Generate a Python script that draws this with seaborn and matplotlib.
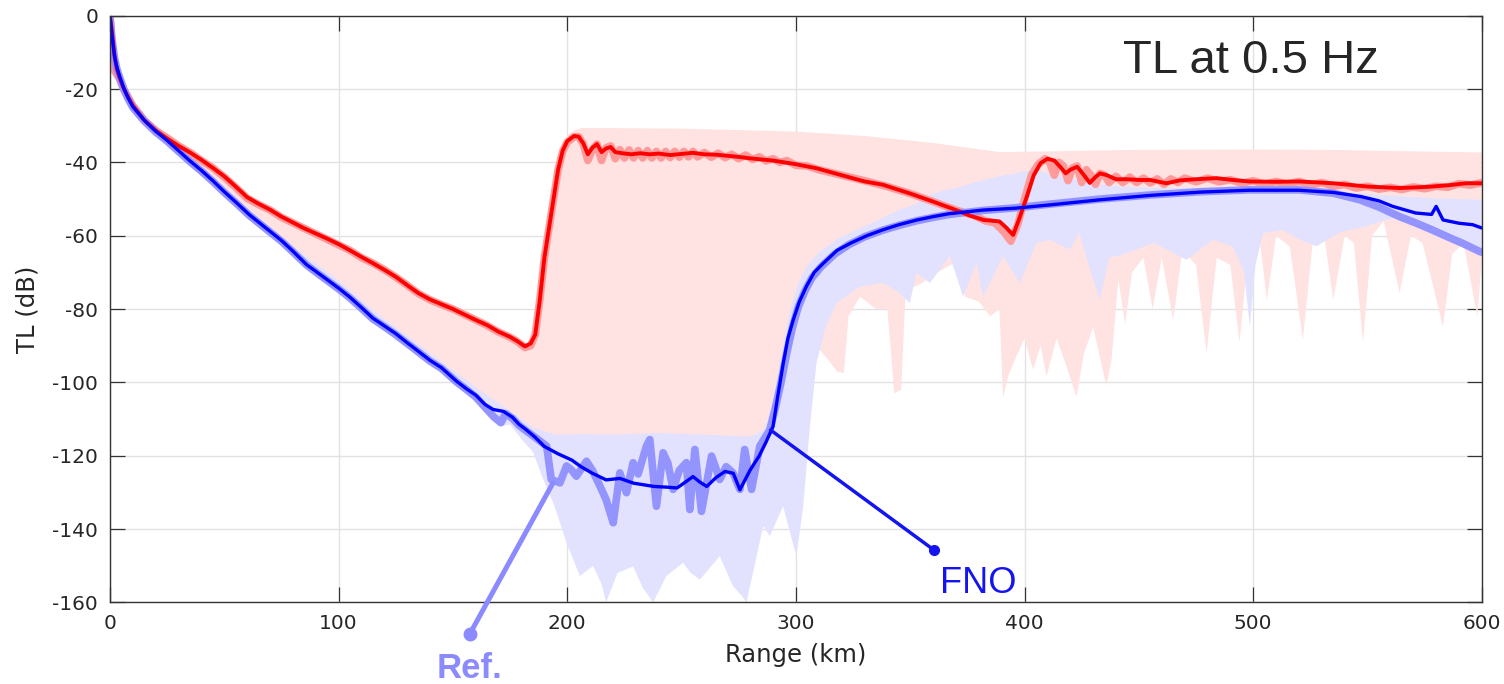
import numpy as np
import matplotlib
matplotlib.use("Agg")
import matplotlib.pyplot as plt
import seaborn as sns

# ---------------- data ----------------
red_fno_km = [0, 1, 2, 3, 4, 6, 8, 10, 15, 20, 25, 30, 35, 40, 45, 50, 55, 60, 65, 70, 75, 80, 85, 90, 95,
              100, 105, 110, 115, 120, 125, 130, 135, 140, 145, 150, 155, 160, 165, 170, 175, 178, 181.5,
              184, 186, 188, 190, 192, 194, 196, 198, 200, 203, 205, 207, 209, 211, 213, 215, 217, 219, 221,
              224, 228, 232, 236, 240, 245, 250, 255, 260, 265, 270, 275, 280, 290, 300, 309, 320, 330, 338,
              350, 360, 370, 376, 382, 389, 392, 395, 398, 401, 404, 407, 410, 413, 416, 418, 420, 423, 426,
              428.5, 431, 433, 436, 440, 445, 450, 455, 462, 468, 475, 484, 491, 498, 510, 520, 535, 550, 564,
              572, 578, 586, 593, 600]
red_fno_tl = [0, -5, -11, -14.5, -16.5, -19.8, -22.3, -24.5, -28.5, -31.3, -33.5, -35.5, -37.3, -39.3, -41.5,
              -43.8, -46.6, -49.5, -51.3, -52.9, -54.8, -56.4, -58, -59.4, -60.8, -62.3, -64, -65.8, -67.5,
              -69.3, -71.2, -73.5, -75.7, -77.4, -78.7, -80, -81.5, -83, -84.4, -86.2, -87.6, -88.7, -90.2,
              -89.4, -87, -77.5, -66, -58, -50, -42, -36.8, -34.2, -32.8, -33, -34.8, -37.8, -36, -35, -37.2,
              -36.2, -35.8, -37.2, -37.5, -37.8, -37.5, -37.8, -37.6, -38, -37.7, -37.4, -37.8, -37.9, -38.2,
              -38.5, -38.9, -39.5, -40.5, -41.6, -43.5, -45.2, -46.1, -48.5, -50.7, -53, -54.5, -55.7, -56.1,
              -57.8, -59.8, -54.8, -49.3, -43.5, -40.2, -39, -39.5, -41.5, -43, -42, -41.2, -43.5, -45.6, -44,
              -43, -43.5, -44.6, -44.6, -44.8, -44.8, -45.7, -44.9, -44.6, -44.3, -44.8, -45.2, -45.3, -45.2,
              -45.7, -46.6, -47, -46.8, -46.6, -46.2, -45.7, -45.7]

red_ref_km = [0, 1, 2, 4, 6, 10, 15, 20, 25, 30, 35, 40, 45, 50, 55, 60, 65, 70, 75, 80, 85, 90, 95, 100, 105,
              110, 115, 120, 125, 130, 135, 140, 145, 150, 155, 160, 165, 170, 175, 178, 181.5, 184, 186, 188,
              190, 192, 194, 196, 198, 200, 203, 205, 207, 209, 211, 213, 215, 217, 219, 221, 223, 225, 227,
              229, 231, 233, 235, 237, 239, 241, 243, 245, 247, 249, 251, 253, 255, 257, 260, 263, 266, 269,
              272, 275, 278, 281, 284, 287, 290, 293, 296, 300, 305, 310, 320, 330, 340, 350, 360, 370, 378,
              383, 387, 391, 394, 397, 400, 403, 406, 409, 411, 413, 415, 417, 419, 421, 423, 425, 427, 429,
              431, 433, 435, 437, 440, 443, 446, 449, 452, 455, 458, 461, 464, 467, 470, 475, 480, 485, 490,
              495, 500, 505, 510, 515, 520, 525, 530, 535, 540, 545, 550, 555, 560, 565, 570, 575, 580, 585,
              590, 595, 600]
red_ref_tl = [0, -12, -15, -17, -20, -24.5, -28.5, -31.3, -33.3, -35.5, -37.3, -39.5, -41.5, -44, -46.8, -49.8,
              -51.5, -53, -55, -56.5, -58, -59.5, -61, -62.5, -64, -66, -67.5, -69.3, -71.3, -73.5, -75.8,
              -77.5, -78.8, -80, -81.5, -83, -84.5, -86.3, -87.7, -88.8, -90.5, -90, -87, -77.5, -66, -58, -50,
              -42, -37, -34.5, -33, -33, -35, -39.5, -36.5, -35, -39.5, -36, -35.5, -39, -36.5, -38.8, -36.6,
              -38.8, -36.8, -38.8, -36.8, -38.8, -37, -38.8, -37, -38.7, -37, -38.6, -37, -38.5, -37, -38.5,
              -37.3, -38.6, -37.5, -38.7, -37.8, -39, -38, -39.2, -38.5, -39.6, -39, -40, -39.5, -40.8, -41,
              -42, -43.5, -45, -46.6, -48.5, -50.7, -53, -54.5, -56, -56.5, -59, -61.5, -57, -50, -43.5, -40.5,
              -39, -40, -43.5, -40, -41, -45, -41.5, -41, -45.5, -42, -43.5, -46, -43, -43.5, -45.5, -43.8,
              -45.5, -44, -45.5, -44.3, -45.6, -44.5, -46, -44.5, -45.5, -44.3, -45.3, -44.3, -45.3, -44.7,
              -45.7, -45, -46, -45.2, -46, -45.2, -46.2, -45.5, -46.5, -46, -47, -46.5, -47.3, -46.8, -47.4,
              -46.7, -47.2, -46.5, -46.8, -45.8, -46.2, -45.5]

blue_fno_km = [0, 1, 2, 3, 4.5, 6, 8, 10, 15, 20, 25, 30, 35, 40, 45, 50, 55, 61, 65, 70, 75, 80, 86, 90, 95,
               100, 105, 110, 115, 120, 125, 130, 134, 140, 145, 151.6, 156, 160, 164, 167.6, 172, 176, 179,
               182, 186, 190, 196, 202, 206, 211, 217, 223, 229, 238, 244, 248, 251, 255, 258, 261, 265, 269,
               272.6, 275.5, 280, 284, 287, 290, 292, 294.4, 296.5, 298.8, 301.5, 304.6, 308, 312, 318, 324,
               331, 338, 345, 353, 360, 367, 382, 396, 411, 433, 455, 477, 498, 520, 535, 547, 555, 561, 571,
               578, 580, 583, 590, 596, 600]
blue_fno_tl = [0, -6, -11, -14, -17, -19.7, -22.5, -24.8, -28.5, -31.5, -34, -36.8, -39.6, -42.2, -45, -48,
               -50.8, -54.3, -56.3, -58.8, -61.3, -64.2, -67.9, -69.7, -72, -74.3, -76.8, -79.6, -82.5, -84.6,
               -86.7, -89.2, -91.1, -94, -96, -99.7, -101.8, -103.5, -106, -107.4, -107.9, -109.5, -111.5,
               -112.9, -115, -117.5, -119.5, -121.2, -123, -124.8, -126.6, -126.2, -127.5, -128.4, -128.6,
               -128.8, -127.5, -125.7, -127.2, -128.4, -126, -124.3, -124.8, -129.3, -123.9, -120, -116.2,
               -112, -104, -95, -88, -83, -78, -73.8, -70, -67.5, -64, -62, -60, -58.4, -57, -55.7, -54.8, -54,
               -53, -52.5, -51.6, -50.2, -49, -48.1, -47.6, -47.6, -48.2, -49.3, -50.5, -52, -53.8, -54.2, -52,
               -55.7, -56.6, -57, -57.9]

blue_ref_km = [0, 1, 2, 3, 4.5, 6, 8, 10, 15, 20, 25, 30, 35, 40, 45, 50, 55, 61, 65, 70, 75, 80, 86, 90, 95,
               100, 105, 110, 115, 120, 125, 130, 134, 140, 145, 151.6, 156, 160, 164, 168, 171, 173, 176, 179,
               182, 187, 191, 193, 196.8, 199.7, 202, 204, 208.4, 211, 214.3, 217, 220.1, 223, 225.9, 228.8,
               231, 234.6, 236.1, 239, 241.9, 244, 246.3, 249, 252.1, 253.6, 255.8, 258.7, 263.1, 266.7, 269.5,
               272.5, 275.5, 277.6, 280.6, 284.2, 288.6, 291, 293.5, 296, 298.5, 301, 304, 307, 311, 317, 323,
               330, 338, 345, 353, 360, 367, 382, 396, 411, 433, 455, 477, 498, 520, 535, 546.6, 555, 564, 571,
               578.2, 585, 592, 599, 600]
blue_ref_tl = [0, -7, -11.5, -14.5, -17.3, -20, -22.7, -25, -28.7, -31.7, -34.2, -37, -39.8, -42.4, -45.2,
               -48.2, -51, -54.5, -56.5, -59, -61.5, -64.4, -68, -69.9, -72.2, -74.5, -77, -79.8, -82.7, -84.8,
               -87, -89.4, -91.3, -94.2, -96.2, -99.9, -102, -104, -106.8, -109.5, -111, -108.5, -109.8, -111.8,
               -113.2, -115.5, -117.4, -126.5, -127.4, -122.8, -124, -125.6, -121.5, -124, -128.3, -132,
               -138.3, -124.7, -130.1, -121.9, -125, -117.4, -115.6, -133.8, -119.2, -122, -129.2, -124, -121.9,
               -134.7, -118.3, -135.2, -120.1, -126.5, -123, -124.7, -129.2, -118.3, -129.2, -117.4, -112.9,
               -107, -100, -92, -85, -79.5, -75, -71.5, -68.5, -65, -62.5, -60.3, -58.5, -57.2, -55.9, -55,
               -54.2, -53.1, -52.4, -51.4, -50, -48.9, -48, -47.5, -47.5, -48.4, -50.2, -52.2, -54.8, -56.5,
               -58.4, -60.3, -62.2, -64.3, -64.5]

# envelope bands
red_hi_km = [0, 2, 5, 10, 15, 20, 25, 40, 55, 70, 85, 100, 115, 130, 145, 160, 175, 181.5, 185, 187, 190, 194,
             197, 200, 204, 207, 250, 300, 330, 360, 389, 410, 447, 500, 535, 570, 600]
red_hi_tl = [0, -11, -18, -24, -28, -31, -33, -39, -46.5, -52.5, -57.5, -62, -67.2, -73.2, -78.5, -82.8, -87.5,
             -90, -88, -80, -64, -48, -37, -32.5, -31, -30.6, -30.8, -31.6, -32.8, -34.7, -37.2, -37, -36.6,
             -36.5, -36.6, -37, -37.3]
red_lo_km = [0, 2, 5, 10, 25, 40, 55, 70, 85, 100, 115, 130, 145, 160, 175, 185, 195, 207, 220, 240, 260, 280,
             288, 292, 296, 300, 305, 309, 313, 318, 321, 323, 328, 335, 340, 343, 346, 348, 355, 362, 369, 374,
             380, 385, 389, 390.6, 393, 396.4, 400, 403.7, 407, 409.6, 414, 418, 422.7, 426, 430, 435.8, 438,
             441, 444, 447, 452, 456, 460, 465, 469, 475, 479.6, 484, 490, 494, 498, 503, 506, 510, 516, 521.7,
             526, 531, 535, 540, 544, 548, 552, 557, 564, 569, 574, 578, 583, 587, 592, 598, 600]
red_lo_tl = [0, -11.5, -18.5, -24.5, -34, -41.8, -50, -58, -65.5, -72.3, -80.5, -87.5, -94.5, -101.5, -108,
             -112.5, -114.5, -114.3, -114.5, -114, -114.5, -115, -116, -112, -103, -92, -88, -90.2, -93, -97,
             -97.5, -82, -76.6, -80, -80, -103, -102, -75, -73, -70, -67.5, -76.6, -78, -82, -80, -104, -98, -93,
             -88, -96.5, -90, -98.3, -88, -95, -104, -92, -85, -101, -94, -72, -84, -70, -66, -80, -66, -83, -64,
             -68, -92, -66, -68, -89, -64, -62, -77.5, -60, -63, -88.4, -62, -60, -77.5, -60, -62, -89, -60, -56,
             -75.6, -60, -62, -72, -84.8, -65, -62, -82, -66]

blue_hi_km = [0, 2, 5, 10, 25, 40, 55, 70, 85, 100, 115, 130, 145, 160, 175, 185, 195, 207, 220, 240, 260, 280,
              286, 289, 292, 295, 298, 301, 305, 310, 318, 326, 335, 345, 352, 358, 364, 370, 378, 389, 396, 404,
              415, 433, 450, 470, 500, 520, 535, 550, 565, 580, 600]
blue_hi_tl = [0, -11, -18, -24, -33.5, -41.3, -49.8, -57.8, -65.3, -72.2, -80.3, -87.3, -94.3, -101.3, -107.8,
              -112.3, -114.3, -114.1, -114.3, -113.8, -114.3, -114.8, -113, -108, -98, -88, -79, -73, -68, -64.5,
              -61, -58.5, -56, -53, -51.5, -49, -47.8, -47, -45.5, -43.8, -43, -42, -43.5, -46, -46.8, -47, -47.2,
              -47.3, -47.8, -48.6, -49.3, -49.8, -50.2]
blue_lo_km = [0, 2, 5, 10, 25, 40, 55, 70, 85, 100, 115, 130, 145, 160, 170, 175, 180, 185, 189.5, 194, 199.7,
              205.5, 211.3, 215, 217, 222, 228.8, 233, 237.5, 243.4, 250.7, 254, 258, 266.7, 272.5, 276, 278.4,
              282.8, 285.7, 288.6, 294.4, 297, 300.2, 303.2, 306, 309, 313, 317.7, 327.9, 338, 344, 349.8, 352.7,
              358.6, 367.3, 373.1, 379, 381.9, 390.6, 397.9, 405.2, 411, 419.8, 424, 428, 432.9, 437, 444.5,
              456.2, 463, 470.8, 482.4, 491.1, 496, 498.5, 501, 504.3, 513, 520, 527.6, 538, 549.5, 556, 564,
              571, 578.4, 588, 599, 600]
blue_lo_tl = [0, -11.5, -18.5, -25.5, -35, -43.2, -51.8, -60, -68.5, -75.5, -83.5, -90.3, -97.3, -104.5, -112,
              -111.5, -115.5, -119, -126.5, -133, -143.8, -152.8, -150.1, -155, -160, -152, -150.2, -156, -160,
              -152.8, -149.2, -152, -153.8, -147.4, -155.6, -158, -160, -147.4, -139.2, -141.9, -133.8, -140,
              -147.4, -133.8, -112.9, -94.7, -85, -78.4, -73.9, -72.9, -75, -78.4, -70.2, -72.9, -65.6, -76.6,
              -67.5, -76.6, -65.6, -72.9, -62, -61.1, -63.8, -59.3, -68, -77.5, -66, -64.8, -62, -64, -66.6,
              -61.1, -62.9, -70, -84.7, -68, -59.3, -58.4, -61, -62.9, -59, -57.5, -56, -54.8, -57, -59.3, -61,
              -64.8, -65]

x_ticks = [0, 100, 200, 300, 400, 500, 600]
y_ticks = [-160, -140, -120, -100, -80, -60, -40, -20, 0]

# ---------------- style ----------------
sns.set_theme(style="whitegrid")
plt.rcParams["font.family"] = ["DejaVu Sans"]
plt.rcParams["axes.unicode_minus"] = False

TXT = "#262626"
fig = plt.figure(figsize=(15.04, 6.84), dpi=100)
fig.patch.set_facecolor("white")
ax = fig.add_axes([0.0731, 0.1194, 0.9122, 0.8576])
ax.set_facecolor("white")
ax.set_axisbelow(True)
ax.grid(True, color="#e2e2e2", linewidth=1.0)

# bands
ax.fill(np.concatenate([red_hi_km, red_lo_km[::-1]]), np.concatenate([red_hi_tl, red_lo_tl[::-1]]),
        color="#ffe2e2", lw=0, zorder=1)
ax.fill(np.concatenate([blue_hi_km, blue_lo_km[::-1]]), np.concatenate([blue_hi_tl, blue_lo_tl[::-1]]),
        color="#e2e2ff", lw=0, zorder=1.1)

# reference lines (thick, light)
sns.lineplot(x=red_ref_km, y=red_ref_tl, ax=ax, color="#ff9a9a", linewidth=5.5, estimator=None,
             sort=False, legend=False, zorder=2, solid_capstyle="round", solid_joinstyle="round")
sns.lineplot(x=blue_ref_km, y=blue_ref_tl, ax=ax, color="#9494ff", linewidth=5.5, estimator=None,
             sort=False, legend=False, zorder=2.1, solid_capstyle="round", solid_joinstyle="round")
# FNO lines
sns.lineplot(x=red_fno_km, y=red_fno_tl, ax=ax, color="#ff0000", linewidth=2.8, estimator=None,
             sort=False, legend=False, zorder=3)
sns.lineplot(x=blue_fno_km, y=blue_fno_tl, ax=ax, color="#0000ff", linewidth=2.4, estimator=None,
             sort=False, legend=False, zorder=3.1)

ax.set_xlim(0, 600)
ax.set_ylim(-160, 0)
ax.set_xticks(x_ticks)
ax.set_yticks(y_ticks)
ax.tick_params(axis="both", which="major", direction="in", length=10.5, width=0.9, color="#333333",
               labelsize=14.5, labelcolor=TXT, bottom=True, top=True, left=True, right=True,
               labeltop=False, labelright=False, pad=8.5)
for s in ax.spines.values():
    s.set_visible(True)
    s.set_color("#333333")
    s.set_linewidth(1.0)
    s.set_zorder(6)

ax.set_xlabel("Range (km)", fontsize=17.5, color=TXT, labelpad=7)
ax.set_ylabel("TL (dB)", fontsize=17.5, color=TXT, labelpad=9)

# annotations
ref_c = "#8b8bff"
fno_c = "#1414f0"
ax.plot([157.4, 193.7], [-168.6, -127.5], color=ref_c, lw=3.6, clip_on=False, zorder=7,
        solid_capstyle="round")
ax.plot([157.4], [-168.6], "o", ms=9, color=ref_c, clip_on=False, zorder=7)
ax.plot([288.9, 360.3], [-113.0, -145.7], color=fno_c, lw=2.5, clip_on=False, zorder=7)
ax.plot([360.3], [-145.7], "o", ms=7, color=fno_c, clip_on=False, zorder=7)

fig.text(437 / 1504, 1 - 678 / 684, "Ref.", fontsize=25, fontweight="bold", color=ref_c,
         family="Liberation Sans", ha="left", va="baseline")
fig.text(940 / 1504, 1 - 592.7 / 684, "FNO", fontsize=26, color=fno_c,
         family="Liberation Sans", ha="left", va="baseline")
fig.text(1123 / 1504, 1 - 72.7 / 684, "TL at 0.5 Hz", fontsize=34, color=TXT,
         family="Liberation Sans", ha="left", va="baseline")

fig.savefig("out.png", dpi=100, facecolor="white")
